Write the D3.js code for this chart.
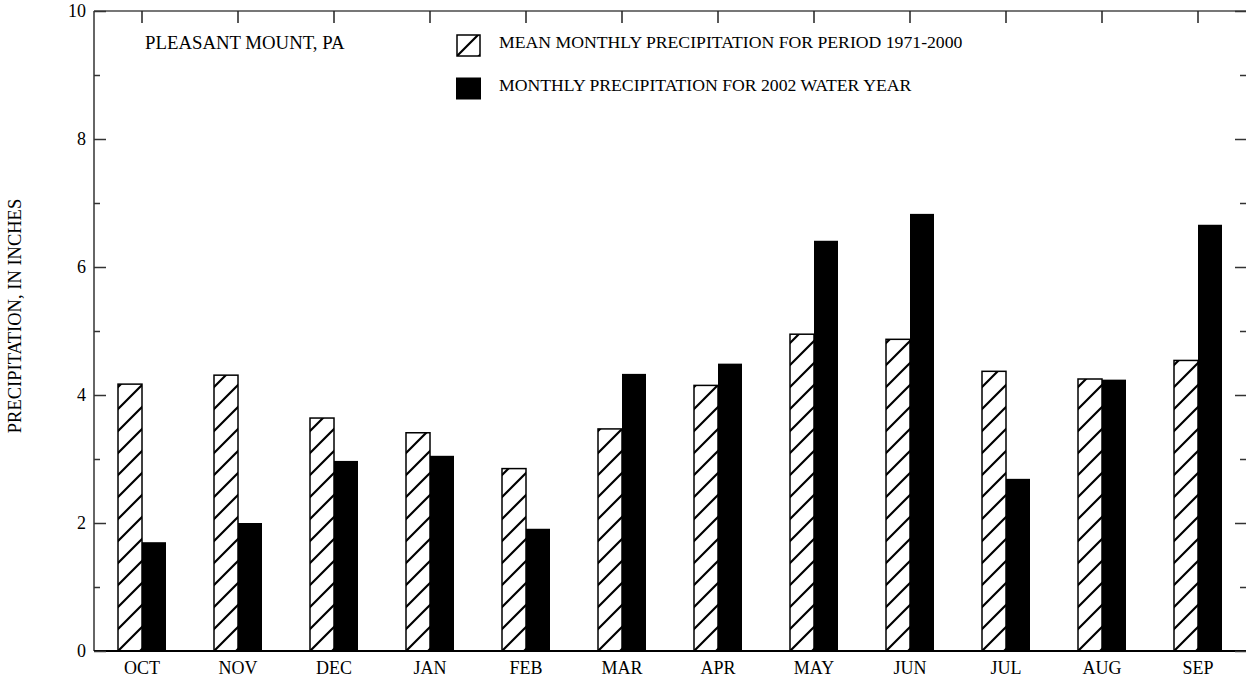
<!DOCTYPE html>
<html>
<head>
<meta charset="utf-8">
<script src="https://cdn.jsdelivr.net/npm/d3@7"></script>
<style>
  body { margin: 0; background: #fff; }
  text { font-family: "Liberation Serif", "Times New Roman", serif; fill: #000; }
</style>
</head>
<body>
<div id="chart"></div>
<script>
var months = ['OCT', 'NOV', 'DEC', 'JAN', 'FEB', 'MAR', 'APR', 'MAY', 'JUN', 'JUL', 'AUG', 'SEP'];
var meanPrecip = [4.17, 4.31, 3.64, 3.41, 2.85, 3.47, 4.15, 4.95, 4.87, 4.37, 4.25, 4.54];
var precip2002 = [1.70, 2.00, 2.97, 3.05, 1.91, 4.33, 4.49, 6.41, 6.83, 2.69, 4.24, 6.66];
var yTicks = [0, 2, 4, 6, 8, 10];
var yMinorTicks = [1, 3, 5, 7, 9];
var seriesNames = ['mean', 'wy2002'];
var legendLabels = ['MEAN MONTHLY PRECIPITATION FOR PERIOD 1971-2000', 'MONTHLY PRECIPITATION FOR 2002 WATER YEAR'];

drawChart();

function drawChart() {
    var width = 1246;
    var height = 681;
    var mLeft = 94, mRight = 1246, mTop = 11, mBottom = 651;

    var svg = d3.select('#chart')
        .append('svg')
        .attr('width', width)
        .attr('height', height);

    // hatch pattern, tile origin = local (0,0) of each bar
    var defs = svg.append('defs');
    var pat = defs.append('pattern')
        .attr('id', 'hatch')
        .attr('patternUnits', 'userSpaceOnUse')
        .attr('width', 22)
        .attr('height', 22);
    pat.append('rect').attr('width', 22).attr('height', 22).attr('fill', '#fff');
    pat.append('path')
        .attr('d', 'M-2,2 L2,-2 M0,22 L22,0 M20,24 L24,20')
        .attr('stroke', '#000')
        .attr('stroke-width', 2.2);

    var x = d3.scaleBand()
        .domain(months)
        .range([mLeft, mRight])
        .paddingInner(0.5)
        .paddingOuter(0.25);

    var xSub = d3.scaleBand()
        .domain(seriesNames)
        .range([0, x.bandwidth()]);

    var y = d3.scaleLinear()
        .domain([0, 10])
        .range([mBottom, mTop]);

    // hatched bars: group origin at bottom-left so the hatch starts at the corner
    var hatched = svg.append('g')
        .selectAll('g')
        .data(meanPrecip)
        .enter()
        .append('g')
        .attr('transform', (d, i) => 'translate(' + (x(months[i]) + xSub('mean')) + ',' + mBottom + ')');

    hatched.append('rect')
        .attr('x', 0)
        .attr('y', d => y(d) - mBottom)
        .attr('width', xSub.bandwidth())
        .attr('height', d => mBottom - y(d))
        .attr('fill', 'url(#hatch)')
        .attr('stroke', '#000')
        .attr('stroke-width', 1.5);

    svg.append('g')
        .selectAll('rect')
        .data(precip2002)
        .enter()
        .append('rect')
        .attr('x', (d, i) => x(months[i]) + xSub('wy2002'))
        .attr('y', d => y(d))
        .attr('width', xSub.bandwidth())
        .attr('height', d => mBottom - y(d))
        .attr('fill', '#000');

    // frame
    svg.append('line')
        .attr('x1', mLeft).attr('x2', mLeft).attr('y1', mTop).attr('y2', mBottom)
        .attr('stroke', '#666').attr('stroke-width', 2);
    svg.append('line')
        .attr('x1', mLeft).attr('x2', mRight).attr('y1', mTop).attr('y2', mTop)
        .attr('stroke', '#777').attr('stroke-width', 2);
    svg.append('line')
        .attr('x1', mLeft).attr('x2', mRight).attr('y1', mBottom).attr('y2', mBottom)
        .attr('stroke', '#000').attr('stroke-width', 2);

    // left and right ticks, pointing inward
    function ticks(axis, xpos) {
        var g = svg.append('g').attr('transform', 'translate(' + xpos + ',0)').call(axis);
        g.select('.domain').remove();
        g.selectAll('line').attr('stroke', '#333').attr('stroke-width', 1.5);
    }
    ticks(d3.axisRight(y).tickValues(yTicks).tickSize(12).tickFormat(''), mLeft);
    ticks(d3.axisRight(y).tickValues(yMinorTicks).tickSize(6).tickFormat(''), mLeft);
    ticks(d3.axisLeft(y).tickValues(yTicks).tickSize(11).tickFormat(''), mRight);
    ticks(d3.axisLeft(y).tickValues(yMinorTicks).tickSize(6).tickFormat(''), mRight);

    // y tick labels
    svg.append('g')
        .selectAll('text')
        .data(yTicks)
        .enter()
        .append('text')
        .attr('x', mLeft - 8)
        .attr('y', d => y(d))
        .attr('dy', '0.35em')
        .attr('text-anchor', 'end')
        .attr('font-size', 18)
        .text(d => d);

    // top ticks at month centres
    var gt = svg.append('g')
        .attr('transform', 'translate(0,' + mTop + ')')
        .call(d3.axisBottom(x).tickSize(12).tickFormat(''));
    gt.select('.domain').remove();
    gt.selectAll('line').attr('stroke', '#222').attr('stroke-width', 1.5);

    // month labels
    svg.append('g')
        .selectAll('text')
        .data(months)
        .enter()
        .append('text')
        .attr('x', d => x(d) + x.bandwidth() / 2)
        .attr('y', mBottom + 23)
        .attr('text-anchor', 'middle')
        .attr('font-size', 18)
        .text(d => d);

    // y axis title
    svg.append('text')
        .attr('transform', 'translate(21,316) rotate(-90)')
        .attr('text-anchor', 'middle')
        .attr('font-size', 18.5)
        .text('PRECIPITATION, IN INCHES');

    // station name
    svg.append('text')
        .attr('x', 145)
        .attr('y', 49)
        .attr('font-size', 18.8)
        .text('PLEASANT MOUNT, PA');

    // legend
    var lg = svg.append('g');
    var sw1 = lg.append('g').attr('transform', 'translate(457,56)');
    sw1.append('rect')
        .attr('x', 0).attr('y', -21)
        .attr('width', 23).attr('height', 21)
        .attr('fill', 'url(#hatch)')
        .attr('stroke', '#000')
        .attr('stroke-width', 1.5);
    lg.append('rect')
        .attr('x', 456).attr('y', 77.5)
        .attr('width', 25).attr('height', 22)
        .attr('fill', '#000');

    lg.selectAll('text.lab')
        .data(legendLabels)
        .enter()
        .append('text')
        .attr('class', 'lab')
        .attr('x', 499)
        .attr('y', (d, i) => 48 + i * 43)
        .attr('font-size', 17.7)
        .text(d => d);
}
</script>
</body>
</html>
